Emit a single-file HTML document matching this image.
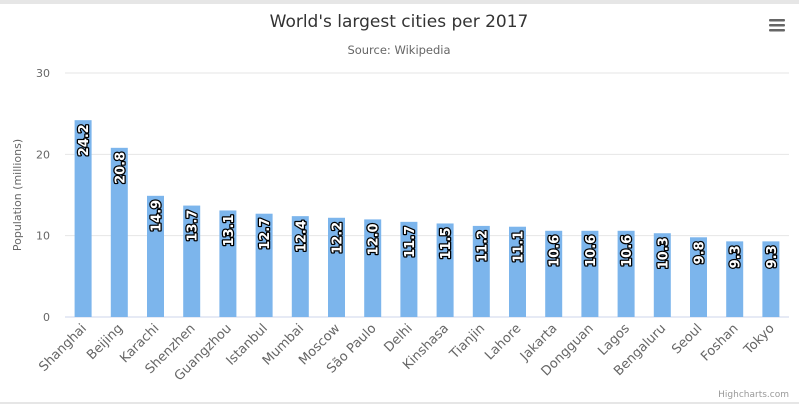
<!DOCTYPE html>
<html><head><meta charset="utf-8"><style>
body{margin:0;background:#fff;font-family:"DejaVu Sans","Liberation Sans",sans-serif}
svg{display:block}
</style></head><body>
<svg id="c" width="799" height="404" xmlns="http://www.w3.org/2000/svg">
<rect x="0" y="0" width="799" height="4" fill="#e6e6e6"/>
<rect x="0" y="402" width="799" height="2" fill="#e6e6e6"/>
<text x="399" y="27" text-anchor="middle" font-size="17" fill="#333">World's largest cities per 2017</text>
<text x="399" y="54" text-anchor="middle" font-size="11.5" fill="#666">Source: Wikipedia</text>
<g fill="#666">
<rect x="769" y="19" width="16" height="2.5" rx="1"/><rect x="769" y="24" width="16" height="2.5" rx="1"/><rect x="769" y="29" width="16" height="2.5" rx="1"/>
</g>
<text transform="translate(21,195) rotate(-90)" text-anchor="middle" font-size="11" fill="#666">Population (millions)</text>
<g id="grid"></g><g id="bars"></g><g id="xl"></g>
<text x="789" y="397" text-anchor="end" font-size="9" fill="#999">Highcharts.com</text>
</svg>
<script>
const categories=["Shanghai","Beijing","Karachi","Shenzhen","Guangzhou","Istanbul","Mumbai","Moscow","São Paulo","Delhi","Kinshasa","Tianjin","Lahore","Jakarta","Dongguan","Lagos","Bengaluru","Seoul","Foshan","Tokyo"];
const values=[24.2,20.8,14.9,13.7,13.1,12.7,12.4,12.2,12.0,11.7,11.5,11.2,11.1,10.6,10.6,10.6,10.3,9.8,9.3,9.3];
const yTicks=[0,10,20,30];
const NS="http://www.w3.org/2000/svg";
const L=65,R=789,T=73,B=317;
const y=v=>B-(v/30)*(B-T);
const step=(R-L)/categories.length;
const x=i=>L+step*(i+0.5);
function mk(t,a,p){const e=document.createElementNS(NS,t);for(const k in a)e.setAttribute(k,a[k]);p.appendChild(e);return e;}
const grid=document.getElementById('grid'),bars=document.getElementById('bars'),xl=document.getElementById('xl');
yTicks.forEach(t=>{
 const ln=mk('line',{x1:L,x2:R,y1:y(t),y2:y(t),stroke:t===0?'#ccd6eb':'#e6e6e6','stroke-width':1},grid);
 
 
 const tx=mk('text',{x:50,y:y(t)+4,'text-anchor':'end','font-size':11,fill:'#666'},grid);
 tx.textContent=t;
 
 
});
categories.forEach((c,i)=>{
 const bw=17,cx=x(i);
 const r=mk('rect',{x:cx-bw/2,y:y(values[i]),width:bw,height:B-y(values[i]),fill:'#7cb5ec'},bars);
 
 
 const t=mk('text',{transform:`translate(${cx+5},${y(values[i])+4}) rotate(-90)`,'text-anchor':'end','font-size':13,'font-weight':'bold',fill:'#fff',stroke:'#000','stroke-width':2.5,'paint-order':'stroke','stroke-linejoin':'round'},bars);
 t.textContent=values[i].toFixed(1);
 
 
 const l=mk('text',{transform:`translate(${cx+4},${B+12}) rotate(-45)`,'text-anchor':'end','font-size':13,fill:'#666'},xl);
 l.textContent=c;
 
 
});
</script>
</body></html>
